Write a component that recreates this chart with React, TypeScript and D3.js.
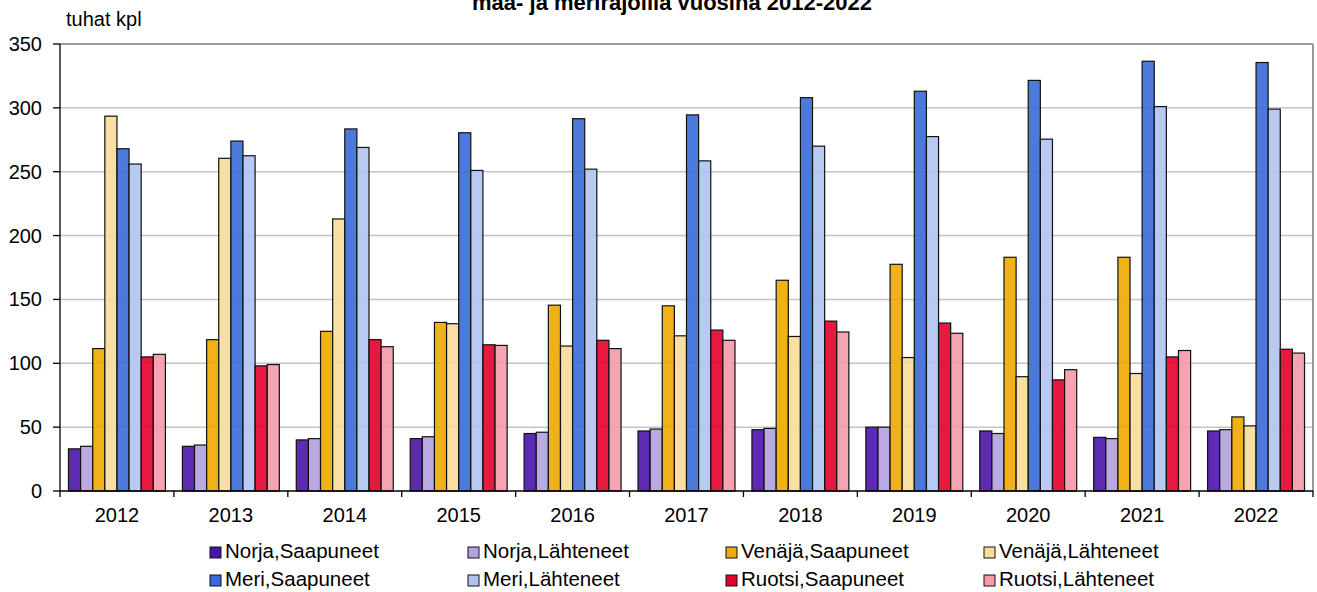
import React from "react";
import * as d3 from "d3";

const years = ["2012", "2013", "2014", "2015", "2016", "2017", "2018", "2019", "2020", "2021", "2022"];
const seriesNames = [
  "Norja,Saapuneet",
  "Norja,Lähteneet",
  "Venäjä,Saapuneet",
  "Venäjä,Lähteneet",
  "Meri,Saapuneet",
  "Meri,Lähteneet",
  "Ruotsi,Saapuneet",
  "Ruotsi,Lähteneet",
];
const norjaSaapuneet = [33, 35, 40, 41, 45, 47, 48, 50, 47, 42, 47];
const norjaLahteneet = [35, 36, 41, 42.5, 46, 48.5, 49, 50, 45, 41, 48];
const venajaSaapuneet = [111.5, 118.5, 125, 132, 145.5, 145, 165, 177.5, 183, 183, 58];
const venajaLahteneet = [293.5, 260.5, 213, 131, 113.5, 121.5, 121, 104.5, 89.5, 92, 51];
const meriSaapuneet = [268, 274, 283.5, 280.5, 291.5, 294.5, 308, 313, 321.5, 336.5, 335.5];
const meriLahteneet = [256, 262.5, 269, 251, 252, 258.5, 270, 277.5, 275.5, 301, 299];
const ruotsiSaapuneet = [105, 98, 118.5, 114.5, 118, 126, 133, 131.5, 87, 105, 111];
const ruotsiLahteneet = [107, 99, 113, 114, 111.5, 118, 124.5, 123.5, 95, 110, 108];
const yTicks = [0, 50, 100, 150, 200, 250, 300, 350];

const seriesValues = [
  norjaSaapuneet,
  norjaLahteneet,
  venajaSaapuneet,
  venajaLahteneet,
  meriSaapuneet,
  meriLahteneet,
  ruotsiSaapuneet,
  ruotsiLahteneet,
];
const colors = ["#4a14aa", "#b4a0de", "#f0aa00", "#f9dc9a", "#3a6ad8", "#b0c4f0", "#e4002c", "#f49aaa"];

const W = 1317;
const H = 592;
const font = "'Liberation Sans', Arial, sans-serif";

export default function App() {
  const left = 60;
  const right = 1313;
  const top = 44;
  const bottom = 491;

  const x0 = d3.scaleBand().domain(years).range([left, right]).padding(0);
  const x1 = d3
    .scaleBand()
    .domain(seriesNames)
    .range([0, x0.bandwidth()])
    .paddingInner(0)
    .paddingOuter(0.7);
  const y = d3.scaleLinear().domain([0, 350]).range([bottom, top]);

  return (
    <div style={{ position: "fixed", left: 0, top: 0, background: "#fff" }}>
      <svg width={W} height={H} style={{ display: "block", fontFamily: font }}>
        <rect width={W} height={H} fill="#fff" />

        {/* title, its first line falls outside the picture like in the original */}
        <text x={672} y={10} textAnchor="middle" fontSize={22} fontWeight="bold" fill="#000">
          maa- ja merirajoilla vuosina 2012-2022
        </text>
        <text x={66} y={26} fontSize={20} fill="#000">
          tuhat kpl
        </text>

        {/* gridlines */}
        {yTicks.slice(1, -1).map((t) => (
          <line key={t} x1={left} x2={right} y1={y(t)} y2={y(t)} stroke="#c4c4c4" strokeWidth={1.5} />
        ))}

        {/* frame top/right */}
        <line x1={left} x2={right} y1={top} y2={top} stroke="#9a9a9a" strokeWidth={2} />
        <line x1={right} x2={right} y1={top} y2={bottom} stroke="#9a9a9a" strokeWidth={2} />

        {/* bars */}
        {years.map((yr, i) => (
          <g key={yr} transform={`translate(${x0(yr)},0)`}>
            {seriesNames.map((s, j) => {
              const v = seriesValues[j][i];
              return (
                <rect
                  key={s}
                  x={x1(s)}
                  y={y(v)}
                  width={x1.bandwidth()}
                  height={y(0) - y(v)}
                  fill={colors[j]}
                  fillOpacity={0.9}
                  stroke="#111"
                  strokeWidth={1.2}
                />
              );
            })}
          </g>
        ))}

        {/* axes */}
        <line x1={left} x2={left} y1={top} y2={bottom} stroke="#000" strokeWidth={1.3} />
        <line x1={left} x2={right} y1={bottom} y2={bottom} stroke="#000" strokeWidth={1.3} />
        {yTicks.map((t) => (
          <g key={t}>
            <line x1={left - 7} x2={left} y1={y(t)} y2={y(t)} stroke="#000" strokeWidth={1.3} />
            <text x={42} y={y(t)} dy="0.35em" textAnchor="end" fontSize={20} fill="#000">
              {t}
            </text>
          </g>
        ))}
        {years.map((yr) => (
          <g key={yr}>
            <line x1={x0(yr)} x2={x0(yr)} y1={bottom} y2={bottom + 6} stroke="#000" strokeWidth={1.3} />
            <text x={x0(yr)! + x0.bandwidth() / 2} y={522} textAnchor="middle" fontSize={20} fill="#000">
              {yr}
            </text>
          </g>
        ))}
        <line x1={right} x2={right} y1={bottom} y2={bottom + 6} stroke="#000" strokeWidth={1.3} />

        {/* legend */}
        {seriesNames.map((s, j) => {
          const col = j % 4;
          const row = Math.floor(j / 4);
          const lx = 210 + col * 258;
          const ly = 558 + row * 28;
          return (
            <g key={s}>
              <rect x={lx} y={ly - 11} width={11} height={11} fill={colors[j]} stroke="#111" strokeWidth={1} />
              <text x={lx + 15} y={ly} fontSize={20.5} fill="#000">
                {s}
              </text>
            </g>
          );
        })}
      </svg>
    </div>
  );
}
